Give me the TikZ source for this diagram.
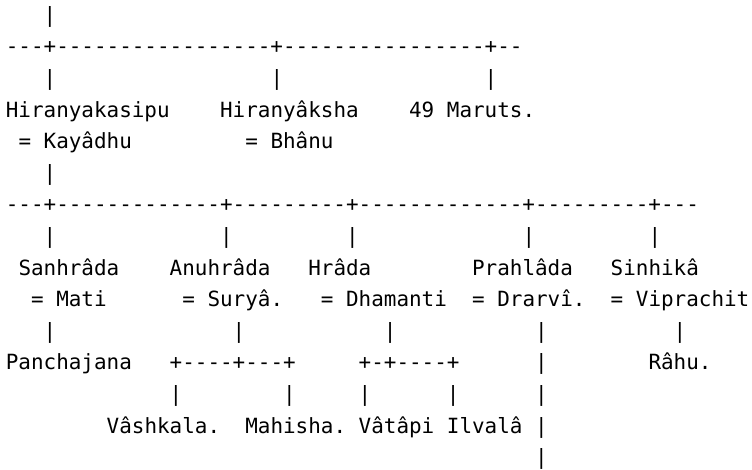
\documentclass[tikz,border=0pt]{standalone}
\usepackage{fontspec}
\setmonofont{DejaVu Sans Mono}
\begin{document}
\begin{tikzpicture}[x=1pt,y=-1pt,
  txt/.style={anchor=base west,inner sep=0pt,outer sep=0pt,font=\ttfamily\fontsize{20.93}{31.6}\selectfont,text=black}]
\useasboundingbox (0,0) rectangle (752,469);
\newcommand\tx[4]{\node[txt] (#1) at ({5.9+12.6*#2},{22.2+31.6*#3}) {#4};}
% generation 1
\tx{a0}{3}{0}{|}
\tx{a1}{0}{1}{---+-----------------+----------------+--}
\tx{a2a}{3}{2}{|}
\tx{a2b}{21}{2}{|}
\tx{a2c}{38}{2}{|}
\tx{hk}{0}{3}{Hiranyakasipu}
\tx{hy}{17}{3}{Hiranyâksha}
\tx{mar}{32}{3}{49 Maruts.}
\tx{kay}{1}{4}{= Kayâdhu}
\tx{bha}{19}{4}{= Bhânu}
\tx{a5}{3}{5}{|}
% generation 2
\tx{b6}{0}{6}{---+-------------+---------+-------------+---------+---}
\tx{b7a}{3}{7}{|}
\tx{b7b}{17}{7}{|}
\tx{b7c}{27}{7}{|}
\tx{b7d}{41}{7}{|}
\tx{b7e}{51}{7}{|}
\tx{san}{1}{8}{Sanhrâda}
\tx{anu}{13}{8}{Anuhrâda}
\tx{hra}{24}{8}{Hrâda}
\tx{pra}{37}{8}{Prahlâda}
\tx{sin}{48}{8}{Sinhikâ}
\tx{mat}{2}{9}{= Mati}
\tx{sur}{14}{9}{= Suryâ.}
\tx{dha}{25}{9}{= Dhamanti}
\tx{dra}{37}{9}{= Drarvî.}
\tx{vip}{48}{9}{= Viprachit}
\tx{c10a}{3}{10}{|}
\tx{c10b}{18}{10}{|}
\tx{c10c}{30}{10}{|}
\tx{c10d}{42}{10}{|}
\tx{c10e}{53}{10}{|}
% generation 3
\tx{pan}{0}{11}{Panchajana}
\tx{c11a}{13}{11}{+----+---+}
\tx{c11b}{28}{11}{+-+----+}
\tx{c11c}{42}{11}{|}
\tx{rah}{51}{11}{Râhu.}
\tx{c12a}{13}{12}{|}
\tx{c12b}{22}{12}{|}
\tx{c12c}{28}{12}{|}
\tx{c12d}{35}{12}{|}
\tx{c12e}{42}{12}{|}
\tx{vas}{8}{13}{Vâshkala.}
\tx{mah}{19}{13}{Mahisha.}
\tx{vat}{28}{13}{Vâtâpi}
\tx{ilv}{35}{13}{Ilvalâ}
\tx{c13}{42}{13}{|}
\tx{c14}{42}{14}{|}
\end{tikzpicture}
\end{document}
